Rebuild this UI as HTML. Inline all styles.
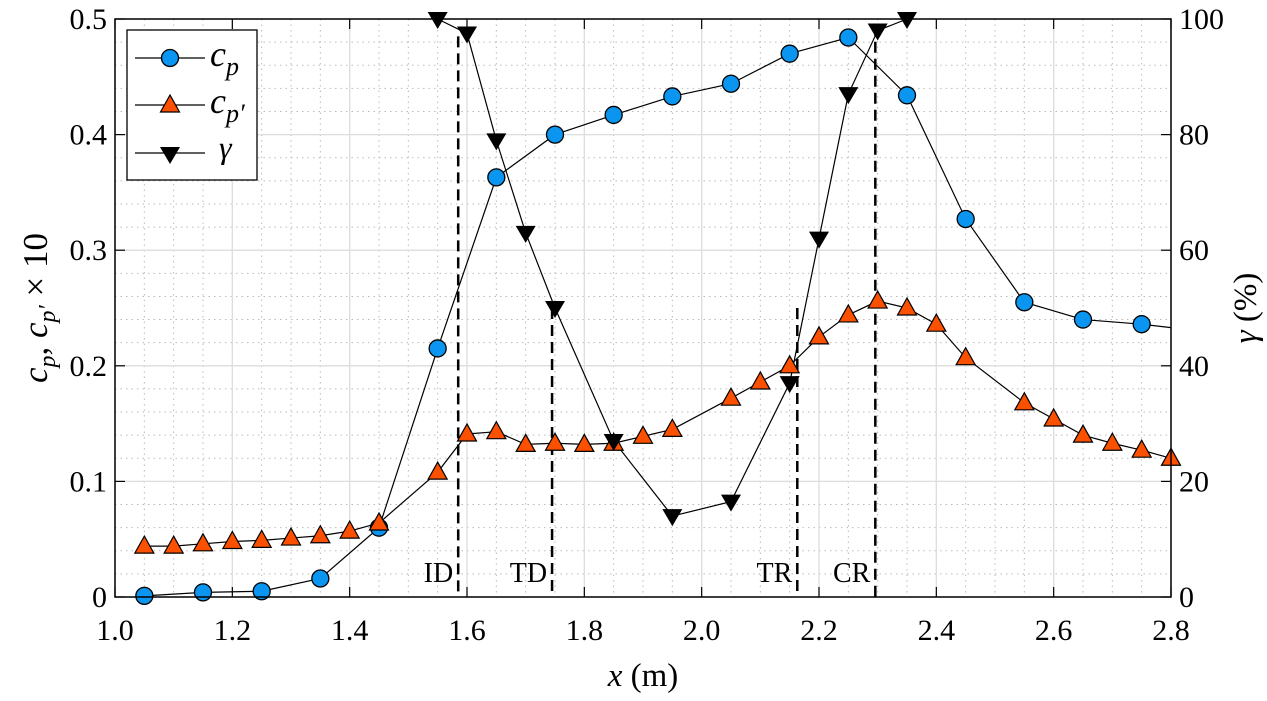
<!DOCTYPE html>
<html><head><meta charset="utf-8"><style>
body{margin:0;background:#fff}
svg text{font-family:"Liberation Serif","Times New Roman",serif;fill:#000}
</style></head><body>
<svg id="chart" width="1267" height="696" xmlns="http://www.w3.org/2000/svg" font-family="Liberation Serif, serif">
<g id="grid"></g>
<g id="marks"></g>
<g id="axes"></g>
</svg>
<script>
const cpX=[1.05,1.15,1.25,1.35,1.45,1.55,1.65,1.75,1.85,1.95,2.05,2.15,2.25,2.35,2.45,2.55,2.65,2.75];
const cpY=[0.001,0.004,0.005,0.016,0.06,0.215,0.363,0.40,0.417,0.433,0.444,0.47,0.484,0.434,0.327,0.255,0.24,0.236];
const cpEndX=2.8, cpEndY=0.233;
const cppX=[1.05,1.10,1.15,1.20,1.25,1.30,1.35,1.40,1.45,1.55,1.60,1.65,1.70,1.75,1.80,1.85,1.90,1.95,2.05,2.10,2.15,2.20,2.25,2.30,2.35,2.40,2.45,2.55,2.60,2.65,2.70,2.75,2.80];
const cppY=[0.044,0.044,0.046,0.048,0.049,0.051,0.053,0.057,0.064,0.108,0.141,0.143,0.132,0.133,0.132,0.133,0.139,0.145,0.172,0.186,0.200,0.225,0.244,0.256,0.25,0.236,0.207,0.168,0.154,0.14,0.133,0.127,0.12];
const gX=[1.55,1.60,1.65,1.70,1.75,1.85,1.95,2.05,2.15,2.20,2.25,2.30,2.35];
const gY=[100,97.5,79,63,50,27,14,16.5,37,62,87,98,100];
const regionX=[1.585,1.745,2.163,2.296];
const regionTop=[97,50,50,99];
const regionLbl=["ID","TD","TR","CR"];
const xTicks=[1.0,1.2,1.4,1.6,1.8,2.0,2.2,2.4,2.6,2.8];
const xTickLbl=["1.0","1.2","1.4","1.6","1.8","2.0","2.2","2.4","2.6","2.8"];
const yTicks=[0,0.1,0.2,0.3,0.4,0.5];
const yTickLbl=["0","0.1","0.2","0.3","0.4","0.5"];
const y2Ticks=[0,20,40,60,80,100];

const L=115,R=1171,T=19,B=597;
const sx=v=>L+(v-1.0)/1.8*(R-L);
const sy=v=>B-v/0.5*(B-T);
const sy2=v=>B-v/100*(B-T);
const NS="http://www.w3.org/2000/svg";
function mk(parent,tag,attrs){const e=document.createElementNS(NS,tag);for(const k in attrs)e.setAttribute(k,attrs[k]);parent.appendChild(e);return e;}
const grid=document.getElementById('grid'),marks=document.getElementById('marks'),axes=document.getElementById('axes');
for(let i=0;i<=36;i++){const x=sx(1+i*0.05);const l=mk(grid,'line',{x1:x,x2:x,y1:T,y2:B,stroke:'#bbbbbb','stroke-width':1,'stroke-dasharray':'1.5,4'});

}
for(let i=0;i<=25;i++){const y=sy(i*0.02);const l=mk(grid,'line',{x1:L,x2:R,y1:y,y2:y,stroke:'#bbbbbb','stroke-width':1,'stroke-dasharray':'1.5,4'});

}
xTicks.forEach(v=>{const l=mk(grid,'line',{x1:sx(v),x2:sx(v),y1:T,y2:B,stroke:'#dedede','stroke-width':1.3});

});
yTicks.forEach(v=>{const l=mk(grid,'line',{x1:L,x2:R,y1:sy(v),y2:sy(v),stroke:'#dedede','stroke-width':1.3});

});
regionX.forEach((v,i)=>{
const l=mk(marks,'line',{x1:sx(v),x2:sx(v),y1:sy2(regionTop[i]),y2:B,stroke:'#000','stroke-width':2.5,'stroke-dasharray':'11,6'});


const t=mk(marks,'text',{x:sx(v)-5,y:582,'text-anchor':'end','font-size':28,'font-family':'Liberation Serif, serif'});
t.textContent=regionLbl[i];


});
function line(xs,ys,f,name){const p=mk(marks,'polyline',{points:xs.map((x,i)=>sx(x)+','+f(ys[i])).join(' '),fill:'none',stroke:'#000','stroke-width':1.2});

}
line(cpX.concat([cpEndX]),cpY.concat([cpEndY]),sy,'cp-line');
line(cppX,cppY,sy,'cp-prime-line');
line(gX,gY,sy2,'gamma-line');
cpX.forEach((x,i)=>{const c=mk(marks,'circle',{cx:sx(x),cy:sy(cpY[i]),r:8.5,fill:'#0a96f0',stroke:'#000','stroke-width':1.3});

});
cppX.forEach((x,i)=>{const X=sx(x),Y=sy(cppY[i]);const p=mk(marks,'polygon',{points:`${X},${Y-10} ${X-9.5},${Y+7} ${X+9.5},${Y+7}`,fill:'#fa5000',stroke:'#000','stroke-width':1.2});

});
gX.forEach((x,i)=>{const X=sx(x),Y=sy2(gY[i]);const p=mk(marks,'polygon',{points:`${X-10},${Y-7} ${X+10},${Y-7} ${X},${Y+10}`,fill:'#000'});

});
const fr=mk(axes,'rect',{x:L,y:T,width:R-L,height:B-T,fill:'none',stroke:'#000','stroke-width':1.5});


xTicks.forEach((v,i)=>{mk(axes,'line',{x1:sx(v),x2:sx(v),y1:B,y2:B-10,stroke:'#000','stroke-width':1.2});mk(axes,'line',{x1:sx(v),x2:sx(v),y1:T,y2:T+10,stroke:'#000','stroke-width':1.2});
const t=mk(axes,'text',{x:sx(v),y:640,'text-anchor':'middle','font-size':30,'font-family':'Liberation Serif, serif'});t.textContent=xTickLbl[i];

});
yTicks.forEach((v,i)=>{mk(axes,'line',{x1:L,x2:L+10,y1:sy(v),y2:sy(v),stroke:'#000','stroke-width':1.2});
const t=mk(axes,'text',{x:L-8,y:sy(v)+10,'text-anchor':'end','font-size':30,'font-family':'Liberation Serif, serif'});t.textContent=yTickLbl[i];

});
y2Ticks.forEach(v=>{mk(axes,'line',{x1:R,x2:R-10,y1:sy2(v),y2:sy2(v),stroke:'#000','stroke-width':1.2});
const t=mk(axes,'text',{x:R+8,y:sy2(v)+10,'text-anchor':'start','font-size':30,'font-family':'Liberation Serif, serif'});t.textContent=String(v);

});
</script>
<svg style="position:absolute;left:0;top:0" width="1267" height="696" xmlns="http://www.w3.org/2000/svg" font-family="Liberation Serif, serif">
<text x="643" y="686" text-anchor="middle" font-size="33"><tspan font-style="italic">x</tspan> (m)</text>
<text transform="translate(47,308) rotate(-90)" text-anchor="middle" font-size="35"><tspan font-style="italic">c</tspan><tspan font-style="italic" font-size="24" dy="8">p</tspan><tspan dy="-8">, </tspan><tspan font-style="italic">c</tspan><tspan font-style="italic" font-size="24" dy="8">p′</tspan><tspan dy="-8"> × 10</tspan></text>
<text transform="translate(1256,308) rotate(-90)" text-anchor="middle" font-size="33"><tspan font-style="italic">γ</tspan> (%)</text>
<g>
<rect x="127" y="30" width="130" height="150" fill="#fff" stroke="#000" stroke-width="1.3"/>
<line x1="135" x2="205" y1="58" y2="58" stroke="#000" stroke-width="1.2"/>
<circle cx="170" cy="58" r="8.5" fill="#0a96f0" stroke="#000" stroke-width="1.3"/>
<text x="210" y="66" font-size="36" font-style="italic">c<tspan font-size="26" dy="9">p</tspan></text>
<line x1="135" x2="205" y1="105" y2="105" stroke="#000" stroke-width="1.2"/>
<polygon points="170,95 160.5,112 179.5,112" fill="#fa5000" stroke="#000" stroke-width="1.2"/>
<text x="210" y="113" font-size="36" font-style="italic">c<tspan font-size="26" dy="9">p′</tspan></text>
<line x1="135" x2="205" y1="153" y2="153" stroke="#000" stroke-width="1.2"/>
<polygon points="160,147 180,147 170,164" fill="#000"/>
<text x="219" y="158" font-size="32" font-style="italic">γ</text>
</g>
</svg>
</body></html>
